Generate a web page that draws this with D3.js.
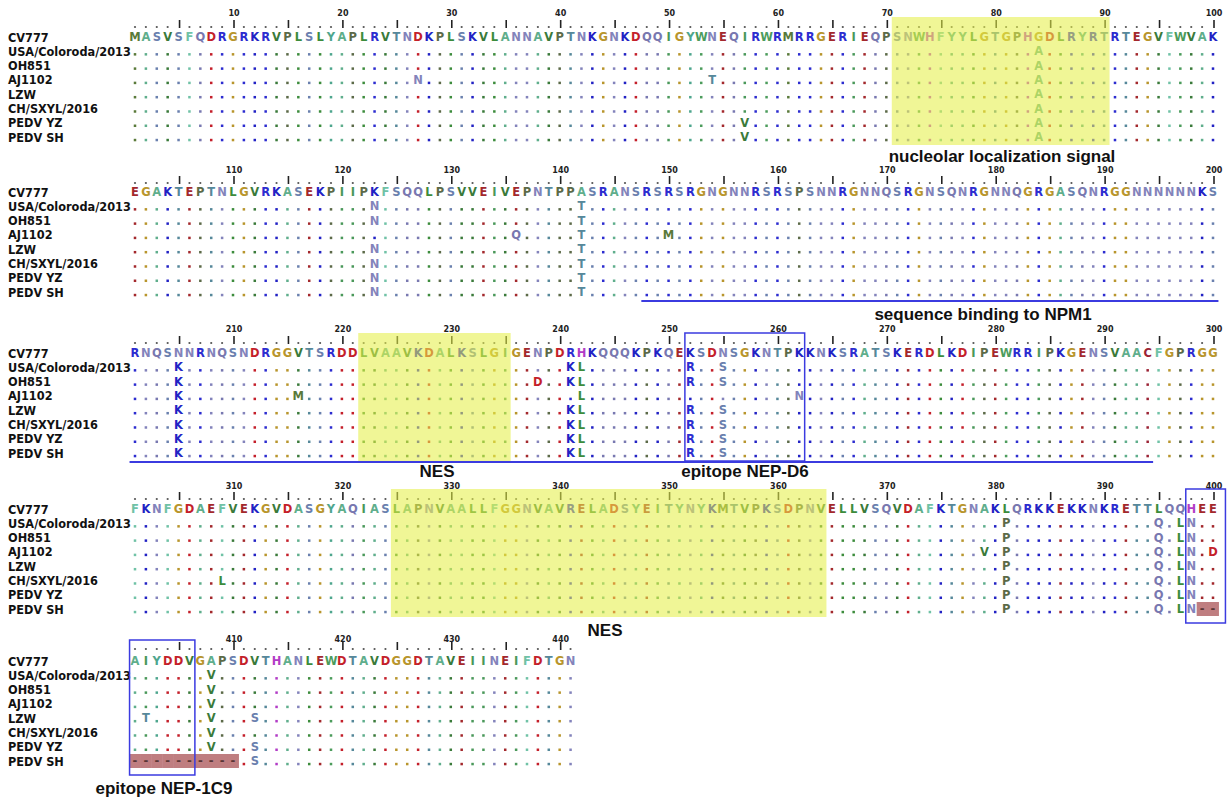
<!DOCTYPE html>
<meta charset="utf-8">
<style>
body { margin: 0; background: #fff; }
.name { font: bold 12.6px "DejaVu Sans Condensed", "Liberation Sans", sans-serif; fill: #111; }
.res { font: bold 11.5px "DejaVu Sans", Verdana, sans-serif; text-anchor: middle; }
.num { font: bold 8px "DejaVu Sans", sans-serif; text-anchor: middle; fill: #222; }
.note { font: bold 17px "Liberation Sans", Arial, sans-serif; text-anchor: middle; fill: #111; }
</style>
<svg width="1228" height="797"></svg>
<script src="https://d3js.org/d3.v7.min.js"></script>
<script>

var strains = ["CV777", "USA/Coloroda/2013", "OH851", "AJ1102", "LZW", "CH/SXYL/2016", "PEDV YZ", "PEDV SH"];

// CV777 reference, one string per alignment block
var cv777 = [
  "MASVSFQDRGRKRVPLSLYAPLRVTNDKPLSKVLANNAVPTNKGNKDQQIGYWNEQIRWRMRRGERIEQPSNWHFYYLGTGPHGDLRYRTRTEGVFWVAK",
  "EGAKTEPTNLGVRKASEKPIIPKFSQQLPSVVEIVEPNTPPASRANSRSRSRGNGNNRSRSPSNNRGNNQSRGNSQNRGNNQGRGASQNRGGNNNNNNKS",
  "RNQSNNRNQSNDRGGVTSRDDLVAAVKDALKSLGIGENPDRHKQQQKPKQEKSDNSGKNTPKKNKSRATSKERDLKDIPEWRRIPKGENSVAACFGPRGG",
  "FKNFGDAEFVEKGVDASGYAQIASLAPNVAALLFGGNVAVRELADSYEITYNYKMTVPKSDPNVELLVSQVDAFKTGNAKLQRKKEKKNKRETTLQQHEE",
  "AIYDDVGAPSDVTHANLEWDTAVDGGDTAVEIINEIFDTGN"
];

var all7 = strains.slice(1);
var not1102 = all7.filter(function(s) { return s !== "AJ1102"; });
var notSH = all7.filter(function(s) { return s !== "PEDV SH"; });

// [strains, position, residue]
var variants = [
  [["AJ1102"], 27, "N"],
  [["AJ1102"], 54, "T"],
  [["PEDV YZ", "PEDV SH"], 57, "V"],
  [all7, 84, "A"],
  [not1102, 123, "N"],
  [["AJ1102"], 136, "Q"],
  [all7, 142, "T"],
  [["AJ1102"], 150, "M"],
  [all7, 205, "K"],
  [["AJ1102"], 216, "M"],
  [["OH851"], 238, "D"],
  [not1102, 241, "K"],
  [all7, 242, "L"],
  [not1102, 252, "R"],
  [not1102, 255, "S"],
  [["AJ1102"], 262, "N"],
  [["CH/SXYL/2016"], 309, "L"],
  [["AJ1102"], 379, "V"],
  [all7, 381, "P"],
  [all7, 395, "Q"],
  [all7, 397, "L"],
  [all7, 398, "N"],
  [["AJ1102"], 400, "D"],
  [["PEDV SH"], 399, "-"], [["PEDV SH"], 400, "-"],
  [["PEDV SH"], 401, "-"], [["PEDV SH"], 402, "-"], [["PEDV SH"], 403, "-"],
  [["PEDV SH"], 404, "-"], [["PEDV SH"], 405, "-"], [["PEDV SH"], 406, "-"],
  [["PEDV SH"], 407, "-"], [["PEDV SH"], 408, "-"], [["PEDV SH"], 409, "-"],
  [["PEDV SH"], 410, "-"],
  [["LZW"], 402, "T"],
  [notSH, 408, "V"],
  [["LZW", "PEDV YZ", "PEDV SH"], 412, "S"]
];

var nucleolar = [71, 90];
var nesRegions = [[222, 235], [325, 364]];
var npm1 = [148, 294];
var epitopes = [[252, 262], [398, 406]];

var labels = [
  ["nucleolar localization signal", 1002, 156],
  ["sequence binding to NPM1", 983, 314],
  ["NES", 437, 471],
  ["epitope NEP-D6", 745, 471],
  ["NES", 605, 630],
  ["epitope NEP-1C9", 164, 788]
];

var colors = {
  A: "#5fae8c", C: "#9b2335", D: "#c41f2a", E: "#a3282c", F: "#70c2a6",
  G: "#b8952c", H: "#b23cc6", I: "#4a985a", K: "#2222c4", L: "#3c8c3c",
  M: "#5a7a3a", N: "#8383bb", P: "#5c6a48", Q: "#7878b0", R: "#2c2cd0",
  S: "#6a80ae", T: "#56889a", V: "#3a7a3a", W: "#4c9c5c", Y: "#4ea68e", "-": "#5a3535"
};

// aligned sequences built from reference + variants
var seqs = {};
var ref = cv777.join("");
strains.forEach(function(s, i) { seqs[s] = i === 0 ? ref.split("") : ref.split("").map(function() { return "."; }); });
variants.forEach(function(v) { v[0].forEach(function(s) { seqs[s][v[1] - 1] = v[2]; }); });

var svg = d3.select("svg");

var rowTop = [37, 192, 353, 509, 661];
var rulerY = [25, 181, 341, 497, 647];
var numY = [13, 170, 329, 486, 639];

cv777.forEach(function(block, b) {
  var start = b * 100 + 1, end = start + block.length - 1;
  var x = d3.scaleLinear().domain([start, start + 99]).range([135, 1213]);
  var cw = x(start + 1) - x(start);
  var y = d3.scalePoint().domain(strains).range([rowTop[b], rowTop[b] + 100]);
  var positions = d3.range(start, end + 1);
  var g = svg.append("g");

  // gap shading
  strains.forEach(function(s) {
    g.selectAll(null).data(positions.filter(function(p) { return seqs[s][p - 1] === "-"; }))
      .enter().append("rect")
      .attr("x", function(p) { return x(p) - cw / 2; })
      .attr("y", y(s) - 7).attr("width", cw + 0.5).attr("height", 14)
      .attr("fill", "#bf7e80");
  });

  // ruler
  positions.forEach(function(p) {
    if (p % 5 === 0) {
      g.append("line").attr("x1", x(p) + 1).attr("x2", x(p) + 1)
        .attr("y1", rulerY[b] - 5).attr("y2", rulerY[b] + 3)
        .attr("stroke", "#222").attr("stroke-width", 1.6);
    } else {
      g.append("circle").attr("cx", x(p)).attr("cy", rulerY[b] + 2).attr("r", 1.1).attr("fill", "#555");
    }
  });
  g.selectAll(null).data(positions.filter(function(p) { return p % 10 === 0; }))
    .enter().append("text").attr("class", "num")
    .attr("x", function(p) { return x(p) + 1; }).attr("y", numY[b] + 3)
    .text(function(p) { return p; });

  // names
  g.selectAll(null).data(strains).enter().append("text").attr("class", "name")
    .attr("x", 8).attr("y", function(s) { return y(s); }).attr("dy", "0.36em")
    .text(function(s) { return s; });

  // residues and dots
  strains.forEach(function(s) {
    var row = positions.map(function(p) { return { p: p, c: seqs[s][p - 1], r: ref[p - 1] }; });
    g.selectAll(null).data(row.filter(function(d) { return d.c === "."; }))
      .enter().append("rect")
      .attr("x", function(d) { return x(d.p) - 1.25; }).attr("y", y(s) + 1.8)
      .attr("width", 2.5).attr("height", 2.5)
      .attr("fill", function(d) { return colors[d.r]; });
    g.selectAll(null).data(row.filter(function(d) { return d.c !== "."; }))
      .enter().append("text").attr("class", "res")
      .attr("x", function(d) { return x(d.p); }).attr("y", y(s)).attr("dy", "0.36em")
      .attr("fill", function(d) { return colors[d.c]; })
      .text(function(d) { return d.c; });
  });

  var top = rulerY[b] - 8, bottom = y("PEDV SH") + 8;

  // highlighted regions
  [nucleolar].concat(nesRegions).forEach(function(r) {
    var a = Math.max(r[0], start), e = Math.min(r[1], end);
    if (a > e) return;
    g.append("rect").attr("x", x(a) - cw / 2).attr("y", top)
      .attr("width", x(e) - x(a) + cw).attr("height", bottom - top)
      .attr("fill", "#e6f04a").attr("opacity", 0.58);
  });

  // epitope boxes
  epitopes.forEach(function(r) {
    var a = Math.max(r[0], start), e = Math.min(r[1], end);
    if (a > e) return;
    var extra = (b === 3) ? 7 : 0;
    var bt = (b === 4) ? rulerY[b] - 7 : top;
    g.append("rect").attr("x", x(a) - cw / 2).attr("y", bt)
      .attr("width", x(e) - x(a) + cw + extra).attr("height", bottom - bt + (b >= 3 ? 6 : 0))
      .attr("fill", "none").attr("stroke", "#3b3be0").attr("stroke-width", 1.5);
  });

  // NPM1 binding underline
  var a = Math.max(npm1[0], start), e = Math.min(npm1[1], end);
  if (a <= e) {
    g.append("line").attr("x1", x(a) - cw / 2).attr("x2", x(e) + cw / 2)
      .attr("y1", bottom + 1).attr("y2", bottom + 1)
      .attr("stroke", "#3b3be0").attr("stroke-width", 2);
  }
});

svg.selectAll(".note").data(labels).enter().append("text").attr("class", "note")
  .attr("x", function(d) { return d[1]; }).attr("y", function(d) { return d[2]; })
  .attr("dy", "0.36em").text(function(d) { return d[0]; });

</script>
